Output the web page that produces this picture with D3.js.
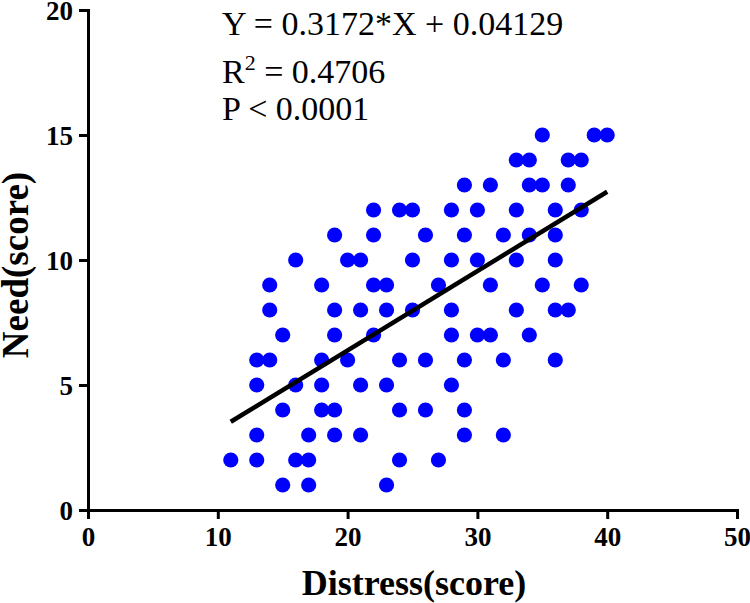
<!DOCTYPE html>
<html><head><meta charset="utf-8">
<script src="https://cdn.jsdelivr.net/npm/d3@7"></script>
<style>html,body{margin:0;padding:0;background:#fff;}svg{display:block;}</style>
</head><body>
<svg id="chart" width="750" height="603"></svg>
<script>
// Data: Need score (y) -> Distress scores (x) of points in that row
const needLevels = [15, 14, 13, 12, 11, 10, 9, 8, 7, 6, 5, 4, 3, 2, 1];
const distressByNeed = [
  [35, 39, 40],
  [33, 34, 37, 38],
  [29, 31, 34, 35, 37],
  [22, 24, 25, 28, 30, 33, 36, 38],
  [19, 22, 26, 29, 32, 34, 36],
  [16, 20, 21, 25, 28, 30, 33, 36],
  [14, 18, 22, 23, 27, 31, 35, 38],
  [14, 19, 21, 23, 25, 28, 33, 36, 37],
  [15, 19, 22, 28, 30, 31, 34],
  [13, 14, 18, 20, 24, 26, 29, 32, 36],
  [13, 16, 18, 21, 23, 28],
  [15, 18, 19, 24, 26, 29],
  [13, 17, 19, 21, 29, 32],
  [11, 13, 16, 17, 24, 27],
  [15, 17, 23]
];
const slope = 0.3172, intercept = 0.04129;
const fitRange = [11, 40];
const xTicks = [0, 10, 20, 30, 40, 50];
const yTicks = [0, 5, 10, 15, 20];
const eqText = "Y = 0.3172*X + 0.04129";
const r2Value = "0.4706";
const pText = "P < 0.0001";
const xTitle = "Distress(score)";
const yTitle = "Need(score)";

const points = [];
needLevels.forEach((n, i) => distressByNeed[i].forEach(d => points.push({x: d, y: n})));

const svg = d3.select("#chart");
const x = d3.scaleLinear().domain([0, 50]).range([88, 737]);
const y = d3.scaleLinear().domain([0, 20]).range([510, 10]);
const serif = "'Liberation Serif','Times New Roman',serif";

// points
svg.append("g").selectAll("circle").data(points).join("circle")
  .attr("cx", d => x(d.x)).attr("cy", d => y(d.y)).attr("r", 7.6)
  .attr("fill", "#0000ff");

// regression line
svg.append("line")
  .attr("x1", x(fitRange[0])).attr("y1", y(slope * fitRange[0] + intercept))
  .attr("x2", x(fitRange[1])).attr("y2", y(slope * fitRange[1] + intercept))
  .attr("stroke", "#000").attr("stroke-width", 4.5);

// axes
const xAxis = svg.append("g").attr("transform", "translate(0,510)")
  .call(d3.axisBottom(x).tickValues(xTicks).tickSize(9).tickPadding(8).tickFormat(d3.format("d")));
const yAxis = svg.append("g").attr("transform", "translate(88,0)")
  .call(d3.axisLeft(y).tickValues(yTicks).tickSize(9).tickPadding(6).tickFormat(d3.format("d")));
[xAxis, yAxis].forEach(g => {
  g.select(".domain").attr("stroke", "#000").attr("stroke-width", 3);
  g.selectAll(".tick line").attr("stroke", "#000").attr("stroke-width", 3);
  g.selectAll(".tick text").attr("fill", "#000")
    .style("font-family", serif).style("font-weight", "bold").style("font-size", "27px");
});
yAxis.selectAll(".tick text").attr("dy", "0.34em");

// axis titles
svg.append("text").attr("x", 414).attr("y", 595).attr("text-anchor", "middle")
  .style("font-family", serif).style("font-weight", "bold").style("font-size", "36px")
  .text(xTitle);
svg.append("text").attr("transform", "translate(28,265) rotate(-90)").attr("text-anchor", "middle")
  .style("font-family", serif).style("font-weight", "bold").style("font-size", "37px")
  .text(yTitle);

// annotation
const ann = svg.append("g").style("font-family", serif).style("font-size", "34px").attr("fill", "#000");
ann.append("text").attr("x", 222).attr("y", 35).text(eqText);
const r2 = ann.append("text").attr("x", 222).attr("y", 83);
r2.append("tspan").text("R");
r2.append("tspan").attr("dy", -13).style("font-size", "22px").text("2");
r2.append("tspan").attr("dy", 13).text(" = " + r2Value);
ann.append("text").attr("x", 222).attr("y", 120).text(pText);
</script>
</body></html>
